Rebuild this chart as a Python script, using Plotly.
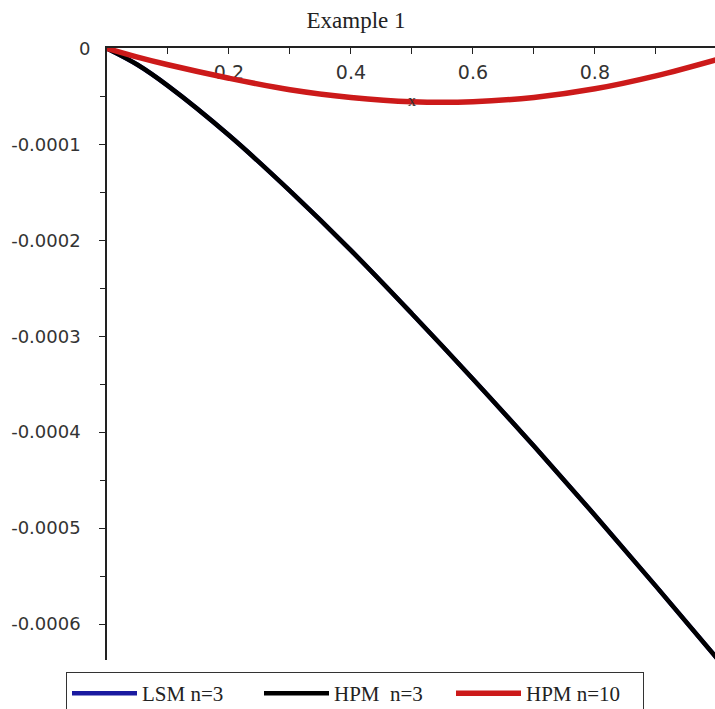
import plotly.graph_objects as go

# x grid
x_vals = [0.0, 0.05, 0.1, 0.2, 0.3, 0.4, 0.5, 0.6, 0.7, 0.8, 0.9, 1.0]
# values (units: 1e-4)
hpm3_e4 = [0.0, -0.17, -0.39, -0.905, -1.485, -2.105, -2.765, -3.445, -4.145, -4.865, -5.605, -6.355]
lsm3_e4 = list(hpm3_e4)  # hidden under the HPM n=3 curve
hpm10_e4 = [0.0, -0.09, -0.17, -0.31, -0.43, -0.51, -0.555, -0.555, -0.51, -0.42, -0.285, -0.115]

lsm3 = [v * 1e-4 for v in lsm3_e4]
hpm3 = [v * 1e-4 for v in hpm3_e4]
hpm10 = [v * 1e-4 for v in hpm10_e4]

x_ticks = [0.2, 0.4, 0.6, 0.8]
x_ticktext = ["0.2", "0.4", "0.6", "0.8"]
y_ticks = [0, -0.0001, -0.0002, -0.0003, -0.0004, -0.0005, -0.0006]
y_ticktext = ["0", "-0.0001", "-0.0002", "-0.0003", "-0.0004", "-0.0005", "-0.0006"]

W, H = 715, 709
L, T, R, B = 107, 48, 0, 709 - 660
PH = H - T - B

fig = go.Figure()
fig.add_trace(go.Scatter(x=x_vals, y=lsm3, mode="lines", name="LSM n=3",
                         line=dict(color="#1a1aa0", width=4.5, shape="spline")))
fig.add_trace(go.Scatter(x=x_vals, y=hpm3, mode="lines", name="HPM  n=3",
                         line=dict(color="#000000", width=4.5, shape="spline")))
fig.add_trace(go.Scatter(x=x_vals, y=hpm10, mode="lines", name="HPM n=10",
                         line=dict(color="#cc1a1a", width=5.5, shape="spline")))

fig.add_annotation(x=0.5, y=-0.0000542, text="x", showarrow=False,
                   font=dict(family="Liberation Serif", size=16, color="#333"))
# "0" tick label at the top of the y axis
fig.add_annotation(xref="paper", x=0, y=0, text=y_ticktext[0], showarrow=False,
                   xanchor="right", yanchor="middle", xshift=-15,
                   font=dict(family="DejaVu Sans", size=18, color="#333"))

fig.update_layout(
    width=W, height=H,
    margin=dict(l=L, r=R, t=T, b=B, autoexpand=False),
    paper_bgcolor="white", plot_bgcolor="white",
    title=dict(text="Example 1", x=356/W, xanchor="center", y=1-20/H, yanchor="middle",
               font=dict(family="Liberation Serif", size=23, color="#222")),
    showlegend=True,
    legend=dict(orientation="h", x=(355-107)/608, xanchor="center", y=-(672-660)/PH, yanchor="top",
                bordercolor="#333", borderwidth=1, bgcolor="white",
                font=dict(family="Liberation Serif", size=21, color="#222"),
                itemwidth=65, entrywidth=112, tracegroupgap=0),
)
fig.update_xaxes(range=[0, 0.997], side="top", showline=True, linecolor="#222", linewidth=1.5,
                 showgrid=False, zeroline=False, ticks="inside", ticklen=6, tickcolor="#222",
                 tickvals=x_ticks, ticktext=x_ticktext, ticklabelposition="inside",
                 ticklabelstandoff=13, automargin=False,
                 tickfont=dict(family="DejaVu Sans", size=19, color="#333"),
                 minor=dict(tickvals=[0.1, 0.3, 0.5, 0.7, 0.9], ticks="inside", ticklen=6, tickcolor="#222"),
                 layer="below traces")
fig.update_yaxes(range=[-0.0006375, 0.0000005], showline=True, linecolor="#222", linewidth=1.5,
                 showgrid=False, zeroline=False, ticks="outside", ticklen=6, tickcolor="#222",
                 tickvals=y_ticks, ticktext=y_ticktext, ticklabelstandoff=15, automargin=False,
                 tickfont=dict(family="DejaVu Sans", size=18, color="#333"),
                 minor=dict(tickvals=[-0.00005, -0.00015, -0.00025, -0.00035, -0.00045, -0.00055],
                            ticks="outside", ticklen=5, tickcolor="#222"),
                 layer="below traces")

fig.write_html("out.html", config={"displayModeBar": False},
               post_script="document.body.style.margin='0';document.body.style.overflow='hidden';")
